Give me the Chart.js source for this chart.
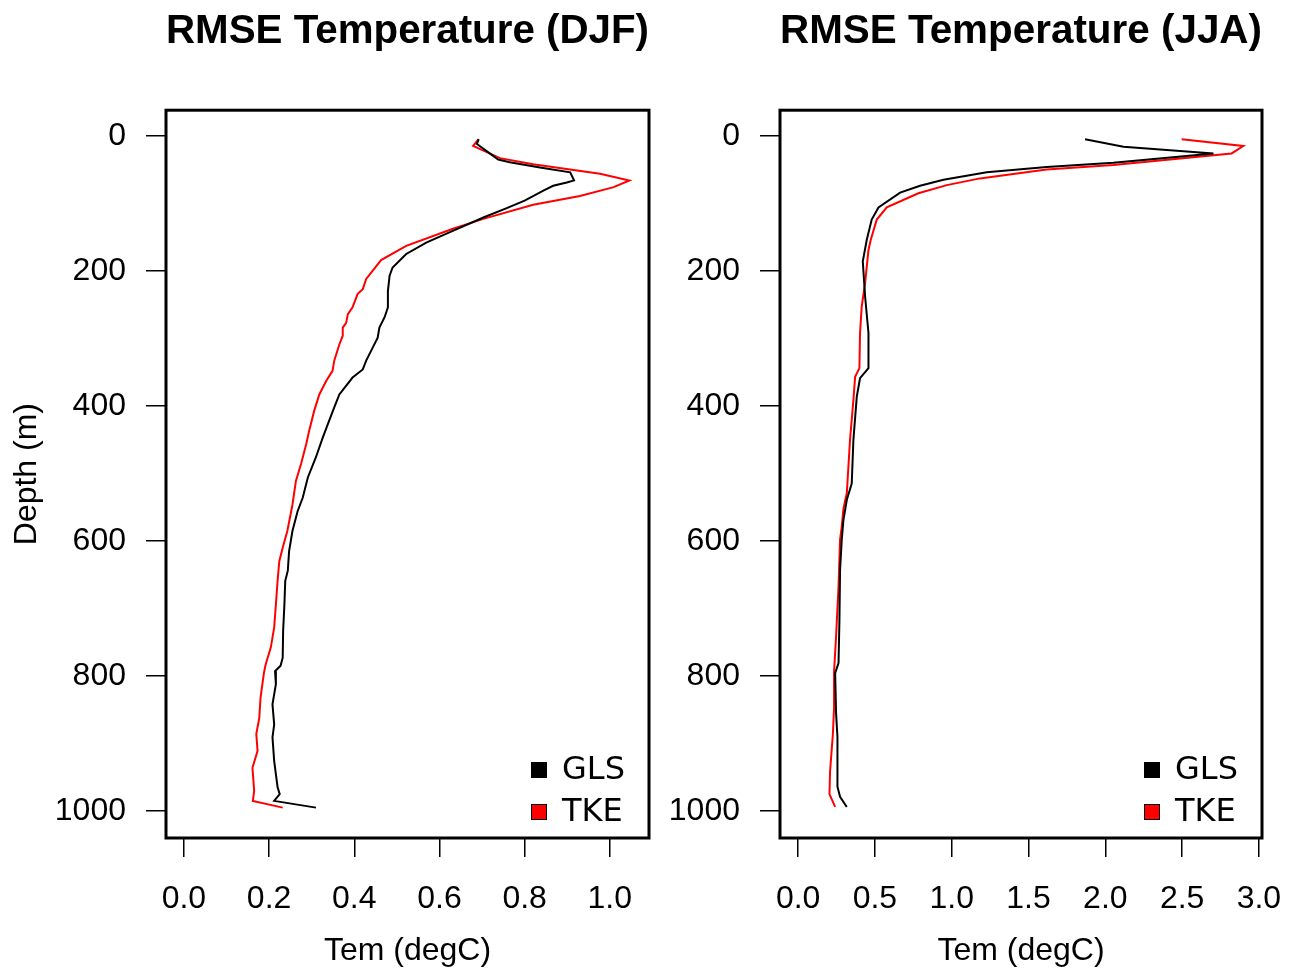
<!DOCTYPE html>
<html>
<head>
<meta charset="utf-8">
<script src="https://cdn.jsdelivr.net/npm/chart.js@4.4.0/dist/chart.umd.min.js"></script>
<style>
  body { margin: 0; background: #fff; }
  #wrap { position: relative; width: 1295px; height: 968px; }
  canvas { position: absolute; top: 0; }
</style>
</head>
<body>
<div id="wrap">
  <canvas id="chartDJF" width="660" height="968" style="left:0"></canvas>
  <canvas id="chartJJA" width="635" height="968" style="left:660px"></canvas>
</div>
<script>
// ejes
const depthTicks = [0, 200, 400, 600, 800, 1000];
const djfTemTicks = [0, 0.2, 0.4, 0.6, 0.8, 1.0];
const jjaTemTicks = [0, 0.5, 1.0, 1.5, 2.0, 2.5, 3.0];

// DJF - GLS
const djfGlsDepth = [5, 12, 26, 35, 39, 47, 54, 66, 69, 74, 81, 96, 107, 121, 141, 158, 175, 195, 207, 230, 254, 269, 284, 299, 314, 333, 346, 358, 383, 402, 427, 447, 476, 506, 536, 556, 585, 615, 644, 659, 694, 733, 773, 785, 793, 812, 842, 872, 891, 926, 965, 975, 985, 995];
const djfGlsTem = [0.692, 0.688, 0.718, 0.738, 0.765, 0.836, 0.907, 0.916, 0.899, 0.867, 0.844, 0.80, 0.758, 0.703, 0.630, 0.569, 0.522, 0.490, 0.483, 0.479, 0.479, 0.471, 0.459, 0.455, 0.443, 0.428, 0.420, 0.396, 0.365, 0.353, 0.338, 0.326, 0.310, 0.291, 0.279, 0.267, 0.255, 0.247, 0.244, 0.238, 0.236, 0.233, 0.232, 0.227, 0.214, 0.216, 0.208, 0.212, 0.208, 0.212, 0.220, 0.225, 0.212, 0.310];

// DJF - TKE
const djfTkeDepth = [5, 15, 33, 42, 56, 66, 76, 89, 102, 123, 138, 163, 184, 212, 227, 234, 254, 264, 277, 284, 296, 309, 333, 348, 363, 383, 407, 437, 457, 486, 511, 546, 585, 610, 630, 659, 694, 728, 758, 783, 795, 832, 862, 886, 911, 936, 970, 985, 995];
const djfTkeTem = [0.692, 0.679, 0.742, 0.82, 0.977, 1.046, 1.009, 0.930, 0.82, 0.703, 0.630, 0.522, 0.463, 0.428, 0.420, 0.408, 0.396, 0.385, 0.381, 0.373, 0.373, 0.365, 0.353, 0.349, 0.334, 0.318, 0.306, 0.294, 0.287, 0.275, 0.263, 0.255, 0.243, 0.232, 0.224, 0.220, 0.216, 0.212, 0.204, 0.192, 0.188, 0.180, 0.177, 0.170, 0.173, 0.161, 0.165, 0.162, 0.232];

// JJA - GLS
const jjaGlsDepth = [5, 16, 26, 40, 46, 54, 65, 74, 84, 106, 124, 154, 186, 238, 292, 344, 359, 386, 450, 515, 539, 569, 598, 643, 717, 781, 796, 855, 890, 964, 979, 994];
const jjaGlsTem = [1.868, 2.118, 2.704, 2.052, 1.618, 1.228, 0.946, 0.794, 0.664, 0.523, 0.479, 0.447, 0.421, 0.436, 0.458, 0.458, 0.403, 0.382, 0.360, 0.349, 0.317, 0.295, 0.284, 0.273, 0.269, 0.263, 0.241, 0.247, 0.256, 0.256, 0.273, 0.317];

// JJA - TKE
const jjaTkeDepth = [5, 15, 26, 43, 50, 63, 73, 85, 106, 124, 154, 169, 218, 253, 292, 344, 357, 391, 450, 529, 552, 579, 598, 668, 742, 793, 847, 887, 941, 975, 994];
const jjaTkeTem = [2.497, 2.898, 2.822, 2.052, 1.618, 1.184, 0.968, 0.783, 0.577, 0.512, 0.473, 0.458, 0.436, 0.414, 0.403, 0.399, 0.371, 0.360, 0.338, 0.317, 0.295, 0.284, 0.273, 0.263, 0.247, 0.234, 0.234, 0.226, 0.208, 0.204, 0.241];

const fontSans = "'Liberation Sans', Arial, sans-serif";

const toPoints = (depth, tem) => depth.map((d, i) => ({ x: tem[i], y: d }));

// caja alrededor del area del grafico
const boxPlugin = {
  id: "box",
  afterDatasetsDraw(chart) {
    const { ctx, chartArea: a } = chart;
    ctx.save();
    ctx.strokeStyle = "#000";
    ctx.lineWidth = 3;
    ctx.strokeRect(a.left, a.top, a.right - a.left, a.bottom - a.top);
    ctx.restore();
  },
};

// leyenda dentro del grafico (abajo a la derecha)
const legendPlugin = {
  id: "boxLegend",
  afterDraw(chart) {
    const { ctx, chartArea: a } = chart;
    ctx.save();
    ctx.font = "32px 'DejaVu Sans', sans-serif";
    ctx.textBaseline = "middle";
    chart.data.datasets.forEach((ds, i) => {
      const cy = a.bottom - 68 + i * 42;
      const sx = a.right - 118;
      ctx.fillStyle = ds.borderColor;
      ctx.fillRect(sx, cy - 8, 16, 16);
      ctx.strokeStyle = "#000";
      ctx.lineWidth = 1;
      ctx.strokeRect(sx + 0.5, cy - 7.5, 15, 15);
      ctx.fillStyle = "#000";
      ctx.fillText(ds.label, a.right - 87, cy + 1);
    });
    ctx.restore();
  },
};

function createChart(id, opts) {
  return new Chart(document.getElementById(id), {
    type: "scatter",
    data: {
      datasets: [
        {
          label: "GLS",
          data: toPoints(opts.glsDepth, opts.glsTem),
          borderColor: "#000000",
          backgroundColor: "#000000",
          borderWidth: 2,
          showLine: true,
          pointRadius: 0,
        },
        {
          label: "TKE",
          data: toPoints(opts.tkeDepth, opts.tkeTem),
          borderColor: "#ff0000",
          backgroundColor: "#ff0000",
          borderWidth: 2,
          showLine: true,
          pointRadius: 0,
        },
      ],
    },
    options: {
      responsive: false,
      animation: false,
      layout: { padding: { left: 0, right: opts.padRight, top: 0, bottom: 0 } },
      plugins: {
        legend: { display: false },
        tooltip: { enabled: false },
        title: {
          display: true,
          text: opts.title,
          fullSize: false,
          color: "#000",
          font: { family: fontSans, size: 41, weight: "bold" },
          padding: { top: 7, bottom: 54 },
        },
      },
      scales: {
        x: {
          type: "linear",
          min: opts.xMin,
          max: opts.xMax,
          afterBuildTicks: (s) => { s.ticks = opts.xTicks.map((v) => ({ value: v })); },
          afterFit: (s) => {
            s.height = 130;
            s.paddingLeft = 0;
            s.paddingRight = 0;
          },
          border: { display: false },
          grid: { drawOnChartArea: false, tickLength: 19, tickColor: "#000", lineWidth: 1.5 },
          ticks: {
            color: "#000",
            font: { family: fontSans, size: 32 },
            padding: 23,
            maxRotation: 0,
            autoSkip: false,
            callback: (v) => v.toFixed(1),
          },
          title: {
            display: true,
            text: "Tem (degC)",
            color: "#000",
            font: { family: fontSans, size: 32 },
            padding: { top: 0, bottom: -2 },
          },
        },
        y: {
          type: "linear",
          reverse: true,
          min: -38,
          max: 1040,
          afterBuildTicks: (s) => { s.ticks = depthTicks.map((v) => ({ value: v })); },
          afterFit: (s) => { s.width = opts.yWidth; },
          border: { display: false },
          grid: { drawOnChartArea: false, tickLength: 20, tickColor: "#000", lineWidth: 1.5 },
          ticks: {
            color: "#000",
            font: { family: fontSans, size: 32 },
            padding: 20,
            autoSkip: false,
            callback: (v) => String(v),
          },
          title: {
            display: opts.yTitle,
            text: "Depth (m)",
            color: "#000",
            font: { family: fontSans, size: 32 },
            padding: { top: 8, bottom: 0 },
          },
        },
      },
    },
    plugins: [boxPlugin, legendPlugin],
  });
}

const chartDJF = createChart("chartDJF", {
  title: "RMSE Temperature (DJF)",
  glsDepth: djfGlsDepth, glsTem: djfGlsTem,
  tkeDepth: djfTkeDepth, tkeTem: djfTkeTem,
  xMin: -0.042, xMax: 1.092, xTicks: djfTemTicks,
  yWidth: 166, padRight: 11, yTitle: true,
});

const chartJJA = createChart("chartJJA", {
  title: "RMSE Temperature (JJA)",
  glsDepth: jjaGlsDepth, glsTem: jjaGlsTem,
  tkeDepth: jjaTkeDepth, tkeTem: jjaTkeTem,
  xMin: -0.118, xMax: 3.02, xTicks: jjaTemTicks,
  yWidth: 120, padRight: 33, yTitle: false,
});
</script>
</body>
</html>
